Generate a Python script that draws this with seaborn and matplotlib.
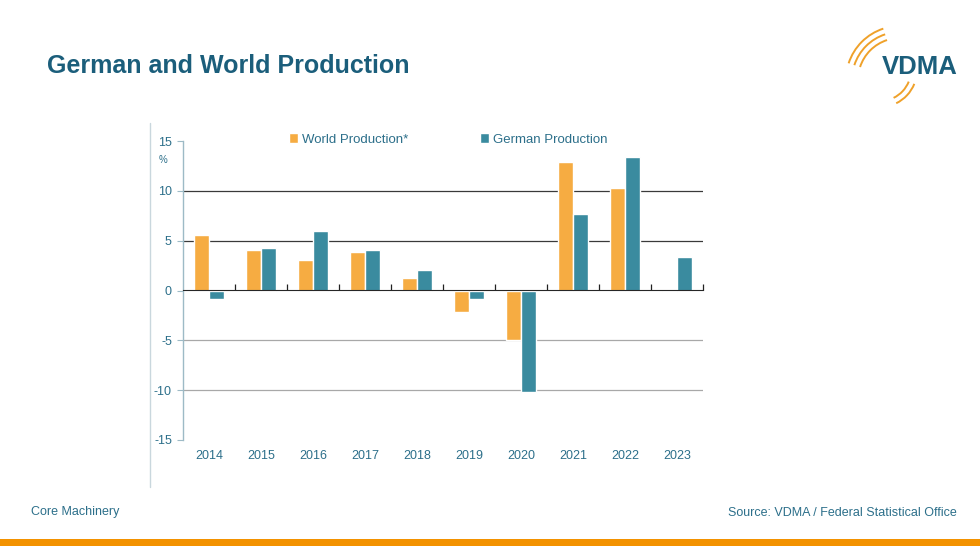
import matplotlib
matplotlib.use("Agg")
import matplotlib.pyplot as plt
import matplotlib.patches as mpatches
import seaborn as sns
import pandas as pd

# --- data (annual change in %) ---
years = ['2014', '2015', '2016', '2017', '2018', '2019', '2020', '2021', '2022', '2023']
world_prod = [5.6, 4.1, 3.1, 3.9, 1.3, -2.2, -5.0, 12.9, 10.3, -0.2]
german_prod = [-0.9, 4.3, 6.0, 4.1, 2.1, -0.9, -10.2, 7.7, 13.4, 3.4]
series_names = ['World Production*', 'German Production']
y_ticks = [-15, -10, -5, 0, 5, 10, 15]
grid_dark = [5, 10]
grid_light = [-5, -10]

df = pd.DataFrame({
    'year': years * 2,
    'value': world_prod + german_prod,
    'series': [series_names[0]] * len(years) + [series_names[1]] * len(years),
})

# --- style ---
sns.set_style('white')
plt.rcParams['font.family'] = ['Liberation Sans', 'DejaVu Sans']

ORANGE = '#F6AC42'
TEAL = '#3A8B9F'
TITLE_C = '#1B5E7B'
TEXT_C = '#2C6F8A'
SPINE_C = '#9DBAC6'

fig = plt.figure(figsize=(9.8, 5.46), dpi=100)
W, H = 980, 546
ax = fig.add_axes([183 / W, 1 - 440 / H, 520 / W, 299 / H])

sns.barplot(data=df, x='year', y='value', hue='series', hue_order=series_names,
            palette=[ORANGE, TEAL], width=0.58, saturation=1, ax=ax, zorder=3)

ax.set_ylim(-15, 15)
ax.set_xlim(-0.5, len(years) - 0.5)
ax.set_xlabel('')
ax.set_ylabel('')
ax.set_yticks(y_ticks)
ax.set_yticklabels([str(v) for v in y_ticks])
ax.tick_params(axis='y', direction='out', length=4, color=SPINE_C, labelsize=9,
               labelcolor=TEXT_C, pad=4, left=True)
ax.tick_params(axis='x', length=0, labelsize=9, labelcolor=TEXT_C, pad=7)

for s in ['top', 'right', 'bottom']:
    ax.spines[s].set_visible(False)
ax.spines['left'].set_color(SPINE_C)
ax.spines['left'].set_linewidth(1)

# horizontal gridlines
for v in grid_dark:
    ax.axhline(v, color='#3A3A3A', lw=0.9, zorder=1)
for v in grid_light:
    ax.axhline(v, color='#A8A8A8', lw=0.9, zorder=1)

# zero axis with category boundary ticks
zero_ax = ax.secondary_xaxis(0.5)
zero_ax.set_zorder(5)
zero_ax.set_xticks([i + 0.5 for i in range(len(years))])
zero_ax.set_xticklabels([])
zero_ax.tick_params(direction='out', length=4, color='#222222', width=0.9)
zero_ax.spines['bottom'].set_color('#222222')
zero_ax.spines['bottom'].set_linewidth(1)

# legend
ax.legend(ncol=2, loc='center', bbox_to_anchor=(0.51, 1.005), frameon=False,
          handlelength=0.7, handleheight=0.7, handletextpad=0.3,
          columnspacing=5.4, fontsize=9.5, labelcolor=TEXT_C)

# percent unit
fig.text(163 / W, 1 - 160 / H, '%', fontsize=7, color=TEXT_C, ha='center', va='center')

# title and footer
fig.text(47 / W, 1 - 66 / H, 'German and World Production', fontsize=18,
         fontweight='bold', color=TITLE_C, ha='left', va='center')
fig.text(31 / W, 1 - 512 / H, 'Core Machinery', fontsize=9, color=TEXT_C,
         ha='left', va='center')
fig.text(957 / W, 1 - 513 / H, 'Source: VDMA / Federal Statistical Office',
         fontsize=9, color=TEXT_C, ha='right', va='center')

# overlay for decorations in pixel space
deco = fig.add_axes([0, 0, 1, 1], zorder=-1)
deco.set_xlim(0, W)
deco.set_ylim(H, 0)
deco.axis('off')
# light frame line left of the chart
deco.plot([150, 150], [123, 487], color='#C9D7DD', lw=1)
# bottom orange band
deco.add_patch(mpatches.Rectangle((0, 539), W, 7, color='#F39200', lw=0))

# VDMA logo
logo_ax = fig.add_axes([0, 0, 1, 1], zorder=5)
logo_ax.set_xlim(0, W)
logo_ax.set_ylim(H, 0)
logo_ax.axis('off')
for r in [42, 48, 54]:
    logo_ax.add_patch(mpatches.Arc((900, 80), 2 * r, 2 * r, theta1=198, theta2=252,
                                   color='#EFA12A', lw=1.4))
for r in [31, 37]:
    logo_ax.add_patch(mpatches.Arc((880, 70), 2 * r, 2 * r, theta1=22, theta2=64,
                                   color='#EFA12A', lw=1.4))
logo_ax.text(920, 67, 'VDMA', fontsize=18.5, fontweight='bold', color=TITLE_C,
             ha='center', va='center')

fig.savefig('out.png', dpi=100)
